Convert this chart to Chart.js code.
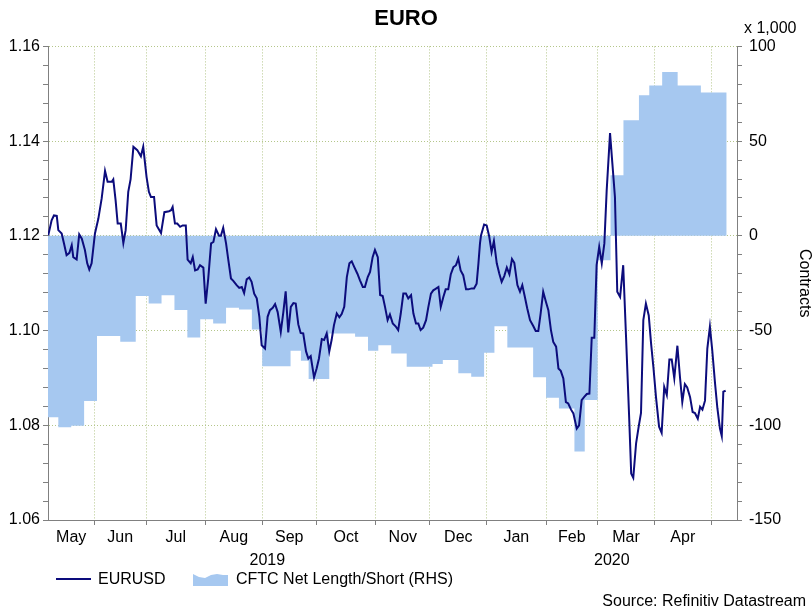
<!DOCTYPE html>
<html>
<head>
<meta charset="utf-8">
<title>EURO</title>
<script src="https://cdn.jsdelivr.net/npm/chart.js@4.4.1/dist/chart.umd.min.js"></script>
<style>
  html, body { margin: 0; padding: 0; background: #fff; }
  #chart { display: block; }
</style>
</head>
<body>
<canvas id="chart" width="812" height="612"></canvas>
<script>
// x = trading day (weekdays) counted from Wed 8 May 2019
const eurDay = [
  0.1, 1.4, 2.3, 3.4, 4.0, 5.3, 6.2, 7.2, 8.3, 9.2, 9.8, 11.1, 12.1, 13.1, 14.3, 15.2, 16.0, 16.9, 18.2, 19.5,
  20.8, 22.1, 23.1, 24.7, 25.3, 26.2, 27.0, 28.2, 29.2, 30.1, 31.1, 32.0, 33.1, 34.6, 36.0, 36.9, 38.2, 39.1, 39.9, 41.1,
  42.1, 43.8, 45.1, 46.9, 47.7, 48.3, 49.2, 50.1, 51.2, 52.2, 53.4, 54.1, 55.3, 56.1, 57.0, 58.0, 58.9, 60.2, 61.1, 62.1,
  63.2, 64.1, 65.1, 66.3, 67.0, 67.9, 69.0, 69.9, 70.9, 71.8, 73.1, 74.1, 75.1, 76.0, 77.0, 78.0, 78.9, 79.9, 80.9, 81.9,
  82.8, 84.1, 85.1, 86.0, 87.1, 88.0, 89.0, 90.2, 91.2, 92.1, 93.1, 94.1, 95.1, 96.0, 97.0, 97.9, 98.9, 100.0, 100.9, 101.8,
  103.1, 104.1, 105.0, 106.1, 107.0, 108.0, 109.0, 109.9, 110.8, 111.9, 112.9, 113.8, 114.8, 115.8, 116.8, 117.7, 118.7, 119.9, 120.9, 122.0,
  122.8, 123.9, 124.8, 125.8, 126.7, 127.8, 128.7, 129.7, 130.6, 131.6, 132.5, 133.6, 134.7, 135.7, 136.7, 137.7, 138.7, 139.6, 140.7, 141.6,
  142.6, 143.5, 144.4, 145.4, 146.5, 147.4, 148.4, 149.3, 150.2, 151.3, 152.2, 153.2, 154.1, 155.1, 156.1, 157.1, 158.1, 159.0, 159.9, 160.9,
  162.0, 162.9, 164.2, 165.1, 166.1, 166.8, 167.4, 167.8, 169.0, 170.0, 171.0, 171.9, 172.8, 173.9, 174.9, 175.8, 176.8, 177.8, 178.8, 179.8,
  180.7, 181.9, 182.9, 183.8, 184.8, 185.7, 186.8, 188.1, 189.0, 190.0, 190.9, 191.9, 193.0, 193.9, 194.9, 195.8, 196.9, 197.8, 198.7, 199.7,
  200.7, 201.6, 202.7, 203.6, 204.9, 205.8, 206.8, 207.8, 208.8, 209.8, 210.7, 211.7, 212.6, 213.6, 214.6, 215.6, 216.5, 217.8, 218.7, 219.7,
  220.6, 221.7, 222.9, 224.0, 225.2, 226.0, 226.8, 227.9, 228.9, 229.8, 230.7, 231.7, 232.8, 233.7, 234.6, 235.6, 236.8, 237.8, 238.8, 239.8,
  240.8, 241.7, 242.7, 243.9, 244.9, 245.8, 246.8, 247.7, 248.8, 249.8, 250.7, 251.8, 252.7, 253.6, 254.6, 255.5, 256.5, 257.4, 258.5, 259.4,
  260.4, 261.1, 261.7, 262.6
];
const eurValue = [
  1.1201, 1.1233, 1.1243, 1.1242, 1.1212, 1.1205, 1.1184, 1.1159, 1.1164, 1.1180, 1.1155, 1.1150, 1.1203, 1.1194, 1.1170, 1.1142, 1.1129, 1.1142, 1.1205, 1.1236,
  1.1279, 1.1337, 1.1314, 1.1314, 1.1319, 1.1275, 1.1226, 1.1226, 1.1185, 1.1212, 1.1293, 1.1319, 1.1388, 1.1381, 1.1368, 1.1388, 1.1324, 1.1293, 1.1282, 1.1282,
  1.1222, 1.1206, 1.1250, 1.1252, 1.1254, 1.1261, 1.1226, 1.1226, 1.1219, 1.1222, 1.1222, 1.1150, 1.1142, 1.1155, 1.1127, 1.1129, 1.1138, 1.1133, 1.1057, 1.1110,
  1.1184, 1.1187, 1.1214, 1.1200, 1.1200, 1.1217, 1.1184, 1.1148, 1.1110, 1.1105, 1.1096, 1.1090, 1.1092, 1.1079, 1.1108, 1.1112, 1.1103, 1.1078, 1.1068, 1.1029,
  1.0969, 1.0962, 1.1029, 1.1043, 1.1048, 1.1056, 1.1039, 1.0997, 1.1039, 1.1083, 1.0996, 1.1050, 1.1058, 1.1057, 1.1013, 1.0995, 1.0994, 1.0956, 1.0941, 1.0946,
  1.0901, 1.0920, 1.0941, 1.0982, 1.0980, 1.0994, 1.0956, 1.0980, 1.1011, 1.1036, 1.1028, 1.1035, 1.1050, 1.1113, 1.1142, 1.1146, 1.1134, 1.1120, 1.1106, 1.1092,
  1.1092, 1.1113, 1.1124, 1.1155, 1.1170, 1.1155, 1.1075, 1.1073, 1.1050, 1.1022, 1.1034, 1.1015, 1.1009, 1.1001, 1.1036, 1.1078, 1.1078, 1.1068, 1.1075, 1.1036,
  1.1015, 1.1015, 1.1001, 1.1006, 1.1022, 1.1050, 1.1078, 1.1085, 1.1088, 1.1092, 1.1050, 1.1071, 1.1087, 1.1087, 1.1119, 1.1134, 1.1138, 1.1152, 1.1127, 1.1117,
  1.1087, 1.1087, 1.1089, 1.1089, 1.1099, 1.1142, 1.1184, 1.1201, 1.1224, 1.1222, 1.1198, 1.1166, 1.1189, 1.1142, 1.1120, 1.1103, 1.1115, 1.1133, 1.1119, 1.1151,
  1.1143, 1.1096, 1.1082, 1.1096, 1.1071, 1.1047, 1.1022, 1.1009, 1.0999, 1.0999, 1.1036, 1.1082, 1.1060, 1.1043, 1.1001, 1.0976, 1.0966, 1.0920, 1.0915, 1.0899,
  1.0849, 1.0846, 1.0833, 1.0825, 1.0793, 1.0800, 1.0853, 1.0860, 1.0866, 1.0867, 1.0985, 1.0985, 1.1138, 1.1177, 1.1142, 1.1184, 1.1296, 1.1417, 1.1353, 1.1282,
  1.1082, 1.1071, 1.1138, 1.0987, 1.0818, 1.0698, 1.0689, 1.0762, 1.0797, 1.0826, 1.1022, 1.1057, 1.1032, 1.0973, 1.0923, 1.0860, 1.0797, 1.0784, 1.0881, 1.0864,
  1.0939, 1.0939, 1.0899, 1.0968, 1.0902, 1.0849, 1.0887, 1.0880, 1.0860, 1.0828, 1.0826, 1.0814, 1.0839, 1.0833, 1.0852, 1.0962, 1.1008, 1.0959, 1.0888, 1.0836,
  1.0793, 1.0777, 1.0871, 1.0873
];

// CFTC net position, thousands of contracts, weekly (held until next report)
const cftcDay = [0, 4, 9, 14, 19, 28, 34, 39, 44, 49, 54, 59, 64, 69, 74, 79, 83, 94, 98, 101,
  109, 119, 124, 128, 133, 139, 149, 153, 159, 164, 169, 173, 178, 188, 193, 198, 204, 208, 213, 218,
  223, 229, 233, 238, 244, 253, 258, 263];
const cftcValue = [-106.1, -95.8, -101.1, -100.2, -87.2, -52.9, -55.9, -31.8, -35.7, -31.3, -39.2, -53.6, -44.0, -46.3, -38.0, -38.9, -49.4, -68.8, -60.7, -66.0,
  -75.6, -51.5, -53.3, -60.7, -57.7, -62.1, -69.1, -67.7, -65.6, -72.6, -74.4, -61.7, -47.7, -58.9, -74.7, -85.5, -91.1, -113.9, -86.7, -12.9,
  32.0, 61.0, 74.2, 79.4, 86.5, 79.4, 75.6, 75.6];

const dayMax = 267;
const monthStarts = [18, 38, 61, 83, 104, 127, 148, 170, 193, 213, 235, 257];
const monthNames = ["May", "Jun", "Jul", "Aug", "Sep", "Oct", "Nov", "Dec", "Jan", "Feb", "Mar", "Apr"];
const yearStarts = [0, 170];
const yearNames = ["2019", "2020"];
const leftMajor = [1.06, 1.08, 1.10, 1.12, 1.14, 1.16];
const rightMajor = [-150, -100, -50, 0, 50, 100];

const FONT = '"Liberation Sans", Arial, sans-serif';
const gridColor = "#b4c68a";
const axisColor = "#808080";
const lineColor = "#0c0c7c";
const areaColor = "#a6c8f0";

Chart.defaults.font.family = FONT;
Chart.defaults.font.size = 16;
Chart.defaults.color = "#000";

// month label sits in the middle of each month, year label in the middle of each year
const monthBounds = [0, ...monthStarts];
const monthMid = monthNames.map((_, i) => (monthBounds[i] + monthBounds[i + 1]) / 2);
const yearBounds = [...yearStarts, dayMax];
const yearMid = yearNames.map((_, i) => (yearBounds[i] + yearBounds[i + 1]) / 2);

function minorTicks(major, parts) {
  const out = [];
  for (let i = 0; i < major.length - 1; i++) {
    const step = (major[i + 1] - major[i]) / parts;
    for (let k = 0; k < parts; k++) out.push(+(major[i] + k * step).toFixed(4));
  }
  out.push(major[major.length - 1]);
  return out;
}
const isMajor = (list, v) => list.some(m => Math.abs(m - v) < 1e-6);

const extras = {
  id: "extras",
  afterDraw(chart) {
    const c = chart.ctx;
    const [lineSet, areaSet] = chart.data.datasets;
    c.save();
    c.font = "16px " + FONT;
    c.fillStyle = "#000";
    c.textBaseline = "middle";

    c.fillText("x 1,000", 744, 29);

    // legend
    c.strokeStyle = lineSet.borderColor;
    c.lineWidth = 2;
    c.beginPath(); c.moveTo(56, 579); c.lineTo(91, 579); c.stroke();
    c.fillText(lineSet.label, 98, 580);

    c.fillStyle = areaSet.backgroundColor;
    c.beginPath();
    c.moveTo(193, 586); c.lineTo(193, 574); c.lineTo(199, 577); c.lineTo(205, 578);
    c.lineTo(211, 575); c.lineTo(217, 574); c.lineTo(223, 575); c.lineTo(228, 575);
    c.lineTo(228, 586); c.closePath(); c.fill();
    c.fillStyle = "#000";
    c.fillText(areaSet.label, 236, 580);

    c.textAlign = "right";
    c.fillText("Source: Refinitiv Datastream", 806, 602);
    c.restore();
  }
};

new Chart(document.getElementById("chart"), {
  type: "line",
  data: {
    datasets: [
      {
        label: "EURUSD",
        data: eurDay.map((d, i) => ({ x: d, y: eurValue[i] })),
        xAxisID: "x", yAxisID: "y",
        borderColor: lineColor, borderWidth: 2,
        pointRadius: 0, tension: 0, fill: false, order: 1
      },
      {
        label: "CFTC Net Length/Short (RHS)",
        data: cftcDay.map((d, i) => ({ x: d, y: cftcValue[i] })),
        xAxisID: "x", yAxisID: "y1",
        stepped: "after", fill: "origin",
        backgroundColor: areaColor, borderColor: "rgba(0,0,0,0)", borderWidth: 1,
        pointRadius: 0, order: 2
      }
    ]
  },
  options: {
    responsive: false,
    animation: false,
    devicePixelRatio: 1,
    layout: { padding: { left: 0, right: 0, top: 0, bottom: 47 } },
    plugins: {
      legend: { display: false },
      tooltip: { enabled: false },
      title: {
        display: true, text: "EURO", color: "#000",
        font: { size: 22, weight: "bold", family: FONT },
        padding: { top: 6, bottom: 14 }
      }
    },
    scales: {
      x: {
        type: "linear", position: "bottom", min: 0, max: dayMax, weight: 1,
        afterBuildTicks: s => { s.ticks = monthStarts.map(v => ({ value: v })); },
        afterFit: s => { s.height = 5; },
        ticks: { display: false, autoSkip: false },
        grid: { color: gridColor, tickColor: axisColor, tickLength: 5, lineWidth: 1 },
        border: { color: axisColor, dash: [1, 2] }
      },
      xm: {
        type: "linear", position: "bottom", min: 0, max: dayMax, weight: 2,
        afterBuildTicks: s => { s.ticks = monthMid.map(v => ({ value: v })); },
        afterFit: s => { s.height = 20; },
        ticks: { autoSkip: false, maxRotation: 0, padding: 3, callback: (v, i) => monthNames[i] },
        grid: { display: false, drawTicks: false },
        border: { display: false }
      },
      xy: {
        type: "linear", position: "bottom", min: 0, max: dayMax, weight: 3,
        afterBuildTicks: s => { s.ticks = yearMid.map(v => ({ value: v })); },
        afterFit: s => { s.height = 20; },
        ticks: { autoSkip: false, maxRotation: 0, padding: 6, callback: (v, i) => yearNames[i] },
        grid: { display: false, drawTicks: false },
        border: { display: false }
      },
      y: {
        type: "linear", position: "left", min: 1.06, max: 1.16,
        afterBuildTicks: s => { s.ticks = minorTicks(leftMajor, 5).map(v => ({ value: v })); },
        afterFit: s => { s.width = 48; },
        ticks: {
          autoSkip: false, padding: 3,
          callback: v => isMajor(leftMajor, v) ? v.toFixed(2) : ""
        },
        grid: {
          color: c => (c.tick && isMajor(leftMajor, c.tick.value)) ? gridColor : "rgba(0,0,0,0)",
          tickColor: axisColor, tickLength: 5
        },
        border: { color: axisColor, dash: [1, 2] }
      },
      y1: {
        type: "linear", position: "right", min: -150, max: 100,
        afterBuildTicks: s => { s.ticks = minorTicks(rightMajor, 5).map(v => ({ value: v })); },
        afterFit: s => { s.width = 75; },
        ticks: {
          autoSkip: false, padding: 7,
          callback: v => isMajor(rightMajor, v) ? String(v) : ""
        },
        grid: { drawOnChartArea: false, tickColor: axisColor, tickLength: 5 },
        border: { color: axisColor },
        title: { display: true, text: "Contracts", font: { size: 16 }, padding: { top: -2, bottom: 0 } }
      }
    }
  },
  plugins: [extras]
});
</script>
</body>
</html>
